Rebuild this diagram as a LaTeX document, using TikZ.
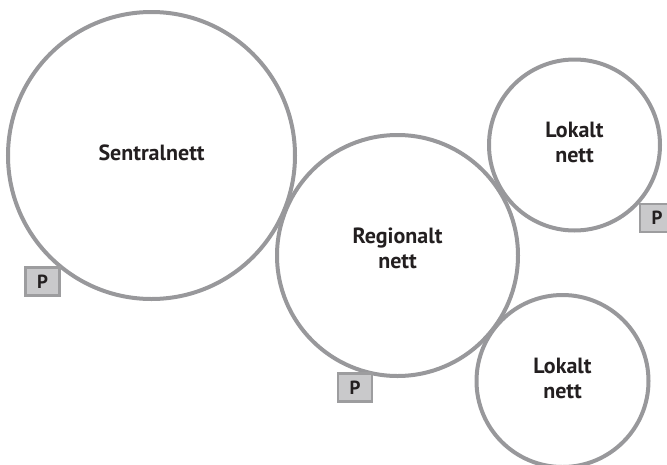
\documentclass[tikz,border=0pt]{standalone}
\usepackage{fontspec}
\usepackage{xcolor}
\usepackage{tikz}
\setmainfont{PT Sans}
\definecolor{ringgray}{HTML}{98989B}
\definecolor{pfill}{HTML}{C9C9CB}
\definecolor{pedge}{HTML}{9D9D9F}
\definecolor{ink}{HTML}{231F20}
\tikzset{
    net/.style={circle, draw=ringgray, line width=4pt, inner sep=0pt},
    nettext/.style={align=center, text=ink, inner sep=0pt,
        font=\fontsize{22}{25}\selectfont\bfseries},
    pbox/.style={rectangle, draw=pedge, fill=pfill, line width=2.7pt, inner sep=0pt,
        minimum width=34pt, minimum height=28pt, text=ink,
        font=\fontsize{19}{20}\selectfont\bfseries}
}

\begin{document}
\begin{tikzpicture}[x=1pt, y=-1pt]
    \useasboundingbox (0,0) rectangle (667,464);

    % nett
    \node [net, minimum size=287pt] (sentral) at (151.5,155.5) {};
    \node [net, minimum size=241pt] (regional) at (397.5,255.5) {};
    \node [net, minimum size=171pt] (lokal1) at (574.5,145) {};
    \node [net, minimum size=172pt] (lokal2) at (562.5,381) {};

    \node [nettext] (sentral-txt) at ([yshift=3pt]sentral.center) {Sentralnett};
    \node [nettext] (regional-txt) at ([yshift=7pt]regional.center) {Regionalt\\nett};
    \node [nettext] (lokal1-txt) at ([yshift=3pt]lokal1.center) {Lokalt\\nett};
    \node [nettext] (lokal2-txt) at ([yshift=3pt]lokal2.center) {Lokalt\\nett};

    % P
    \node [pbox] (p1) at (42.5,281.5) {P};
    \node [pbox] (p2) at (355,387.5) {P};
    \node [pbox] (p3) at (657,218) {P};
\end{tikzpicture}
\end{document}
